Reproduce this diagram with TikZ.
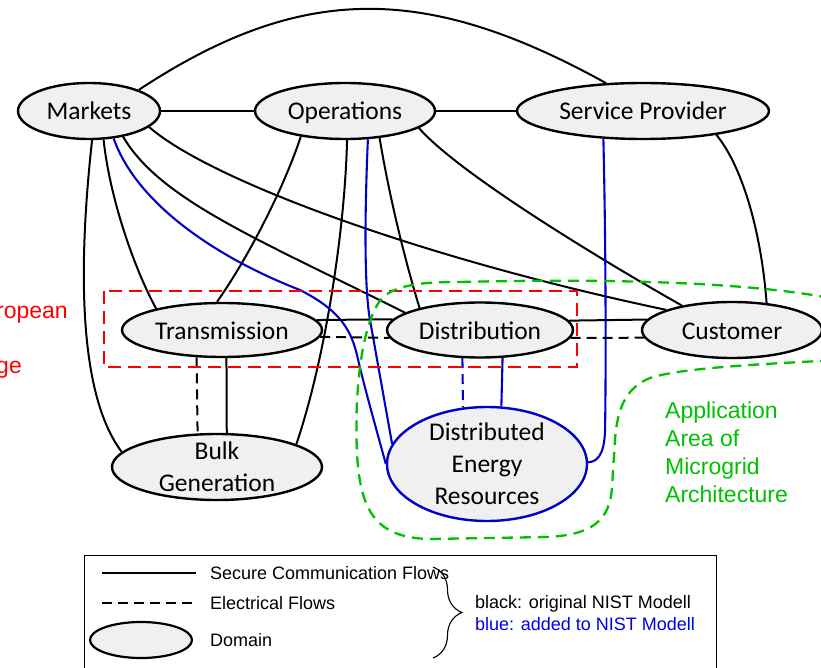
\documentclass[tikz,border=0pt]{standalone}
\usepackage{fontspec}
\setmainfont{Carlito}
\newfontfamily\arialfont{Liberation Sans}
\usetikzlibrary{shapes.geometric,decorations.pathreplacing,backgrounds}
\definecolor{dblue}{RGB}{0,0,200}
\definecolor{tblue}{RGB}{0,0,230}
\definecolor{mgreen}{RGB}{0,192,0}
\definecolor{lgray}{RGB}{240,240,240}
\definecolor{mred}{RGB}{255,0,0}
\begin{document}
\begin{tikzpicture}[x=1pt,y=-1pt,
  dom/.style={ellipse, draw=black, line width=2.4pt, fill=lgray, inner sep=0pt,
    font=\fontsize{25.5}{32}\selectfont, text height=22pt, text depth=4pt},
  lbltwo/.style={font=\fontsize{25.5}{32}\selectfont, align=center, inner sep=0pt},
  conn/.style={line width=2pt, draw=black},
  bconn/.style={line width=2.1pt, draw=dblue},
  elec/.style={line width=2pt, draw=black, dash pattern=on 10pt off 6pt},
  belec/.style={line width=2.1pt, draw=dblue, dash pattern=on 10pt off 6pt},
  legtext/.style={font=\arialfont\fontsize{18}{22}\selectfont, inner sep=0pt, anchor=base west},
  areatext/.style={font=\arialfont\fontsize{23}{28}\selectfont, inner sep=0pt}]
\useasboundingbox (0,0) rectangle (821,668);

% domains
\node[dom, minimum width=142, minimum height=56] (mk) at (89,111) {Markets};
\node[dom, minimum width=180, minimum height=56] (op) at (345,111) {Operations};
\node[dom, minimum width=252, minimum height=56] (sp) at (643,111) {Service Provider};
\node[dom, minimum width=200, minimum height=54] (tr) at (222,330) {Transmission};
\node[dom, minimum width=186, minimum height=55] (di) at (480,330) {Distribution};
\node[dom, minimum width=180, minimum height=56] (cu) at (732,330) {Customer};
\node[dom, minimum width=210, minimum height=66] (bg) at (217,467) {};
\node[lbltwo] (bgT) at (bg) {Bulk\\Generation};
\node[dom, draw=dblue, minimum width=200, minimum height=114] (der) at (487,464) {};
\node[lbltwo] (derT) at (der) {Distributed\\Energy\\Resources};

% regions
\draw[mred, line width=2.4pt, dash pattern=on 13pt off 7pt] (104,291) rectangle (577,367);
\draw[mgreen, line width=2.3pt, dash pattern=on 11pt off 7pt]
  (460,282) .. controls (620,278) and (760,283) .. (840,300)
  -- (840,360)
  .. controls (760,364) and (680,368) .. (650,378)
  .. controls (625,388) and (617,410) .. (615,440)
  -- (612,487)
  .. controls (610,522) and (590,535) .. (547,537)
  -- (430,539)
  .. controls (375,538) and (360,510) .. (357,453)
  .. controls (354,390) and (362,320) .. (383,297)
  .. controls (400,283) and (430,282) .. (460,282);

\node[areatext, text=mred, anchor=base east] (eur1) at (68,318) {ropean};
\node[areatext, text=mred, anchor=base east] (eur2) at (22,373) {ge};
\node[areatext, text=mgreen, align=left, anchor=north west] (area) at (665,401.5)
  {Application\\Area of\\Microgrid\\Architecture};

% connectors
\begin{scope}[on background layer]
\draw[conn] (mk) -- (op);
\draw[conn] (op) -- (sp);
\draw[conn] (mk.23.6) .. controls (301,-17) and (425,-17) .. (sp.143.6);
\draw[conn] (mk.-84) .. controls (80,250) and (75,390) .. (bg.171);
\draw[conn] (mk.-63) .. controls (110,200) and (135,270) .. (tr.162);
\draw[conn] (mk.-37) .. controls (160,200) and (260,240) .. (di.167);
\draw[conn] (mk.-15) .. controls (210,180) and (420,258) .. (cu.163);
\draw[conn] (op.-150) .. controls (285,185) and (250,255) .. (tr.100);
\draw[conn] (op.-86) .. controls (345,230) and (325,360) .. (bg.16);
\draw[conn] (op.-38) .. controls (390,200) and (405,260) .. (di.160);
\draw[conn] (op.-13) .. controls (460,175) and (610,265) .. (cu.154);
\draw[conn] (sp.-18) .. controls (745,170) and (762,240) .. (cu.38);
\draw[bconn] (mk.-48) .. controls (135,200) and (210,255) .. (300,290)
  .. controls (335,308) and (350,325) .. (357,355)
  .. controls (365,390) and (378,435) .. (der.180);
\draw[bconn] (op.-51) .. controls (364,230) and (365,292) .. (370,320) -- (der.168);
\draw[bconn] (sp.-145) .. controls (606,250) and (606,380) .. (605,432)
  .. controls (604,455) and (597,462) .. (der.1);
\draw[conn] (tr.6) -- (di.173.4);
\draw[elec] (tr.-4.8) -- (di.185.1);
\draw[conn] (di.6.6) -- (cu.173.2);
\draw[elec] (di.-5.1) -- (cu.185.3);
\draw[elec] (tr.227.5) -- (bg.120.3);
\draw[conn] (tr.-81.6) -- (bg.74.7);
\draw[belec] (di.-122.7) -- (der.113.5);
\draw[bconn] (di.-51.4) -- (der.76.1);
\end{scope}

% legend
\node[draw=black, line width=1.4pt, rectangle, minimum width=632, minimum height=130,
  anchor=north west, inner sep=0pt] (legend) at (84,555) {};
\coordinate (ls1) at (102,573);
\coordinate (ls2) at (196,573);
\draw[conn] (ls1) -- (ls2);
\node[legtext] (lt1) at (210,579) {Secure Communication Flows};
\coordinate (le1) at (102,603);
\coordinate (le2) at (196,603);
\draw[elec] (le1) -- (le2);
\node[legtext] (lt2) at (210,609) {Electrical Flows};
\node[ellipse, draw=black, line width=2.2pt, fill=lgray, minimum width=102, minimum height=36, inner sep=0pt] (ldom) at (141,640) {};
\node[legtext] (lt3) at (210,646) {Domain};
\coordinate (br1) at (433,567);
\coordinate (br2) at (433,658);
\draw[line width=1.1pt, decorate, decoration={brace, amplitude=29pt}] (br1) -- (br2);
\node[legtext] (lt4) at (475,608) {black: original NIST Modell};
\node[legtext, text=tblue] (lt5) at (475,630) {blue: added to NIST Modell};
\end{tikzpicture}
\end{document}
